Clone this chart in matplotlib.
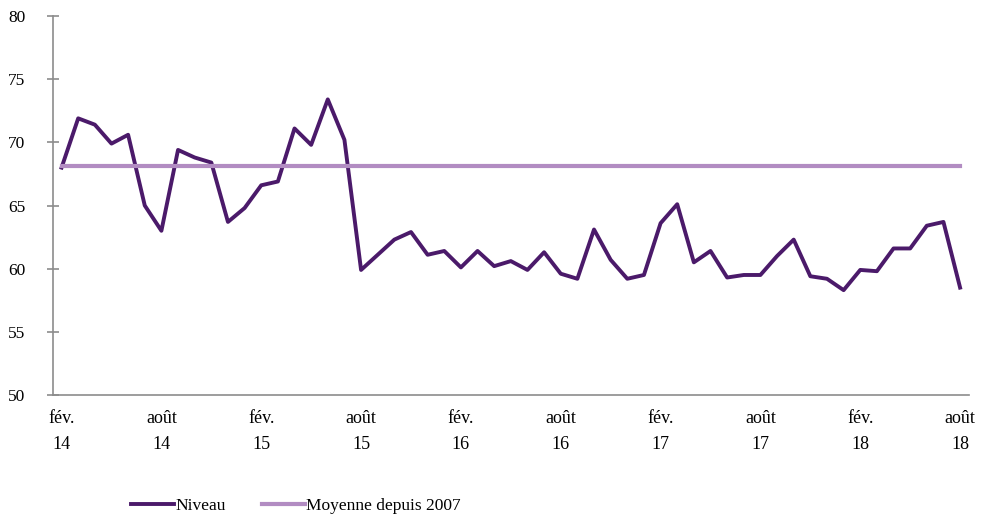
import matplotlib
matplotlib.use("Agg")
from matplotlib import pyplot as plt
import numpy as np

# monthly values, fev. 2014 -> aout 2018
niveau = [68.0, 71.9, 71.4, 69.9, 70.6, 65.0, 63.0, 69.4, 68.8, 68.4,
          63.7, 64.8, 66.6, 66.9, 71.1, 69.8, 73.4, 70.2, 59.9, 61.1,
          62.3, 62.9, 61.1, 61.4, 60.1, 61.4, 60.2, 60.6, 59.9, 61.3,
          59.6, 59.2, 63.1, 60.7, 59.2, 59.5, 63.6, 65.1, 60.5, 61.4,
          59.3, 59.5, 59.5, 61.0, 62.3, 59.4, 59.2, 58.3, 59.9, 59.8,
          61.6, 61.6, 63.4, 63.7, 58.5]
moyenne = 68.15

tick_pos = [0, 6, 12, 18, 24, 30, 36, 42, 48, 54]
tick_labels = ["fév.\n14", "août\n14", "fév.\n15", "août\n15", "fév.\n16",
               "août\n16", "fév.\n17", "août\n17", "fév.\n18", "août\n18"]

dark = "#4B1A6A"
light = "#B28CC2"
axis_col = "#8C8C8C"

plt.rcParams["font.family"] = ["Liberation Serif", "DejaVu Serif"]

fig = plt.figure(figsize=(9.86, 5.17), dpi=100)
ax = fig.add_axes([0.054, 0.236, 0.929, 0.733])

x = np.arange(len(niveau))
ax.plot(x, niveau, color=dark, lw=2.8, label="Niveau")
ax.plot(x, [moyenne] * len(niveau), color=light, lw=3.0, label="Moyenne depuis 2007")

ax.set_xlim(-0.5, 54.55)
ax.set_ylim(50, 80)
ax.set_yticks(range(50, 81, 5))
ax.set_xticks(tick_pos)
ax.set_xticklabels(tick_labels, linespacing=1.65)

for s in ["top", "right"]:
    ax.spines[s].set_visible(False)
for s in ["left", "bottom"]:
    ax.spines[s].set_color(axis_col)
    ax.spines[s].set_linewidth(1.2)

ax.tick_params(axis="y", direction="inout", length=8, width=1.2, color=axis_col,
               labelsize=12.5, pad=16)
ax.tick_params(axis="x", length=0, labelsize=13, pad=11)

fig.legend(loc="center", bbox_to_anchor=(0.30, 0.022), ncol=2, frameon=False,
           fontsize=12.5, handlelength=2.5, handletextpad=0.05, columnspacing=2.1)

fig.savefig("out.png", dpi=100)
